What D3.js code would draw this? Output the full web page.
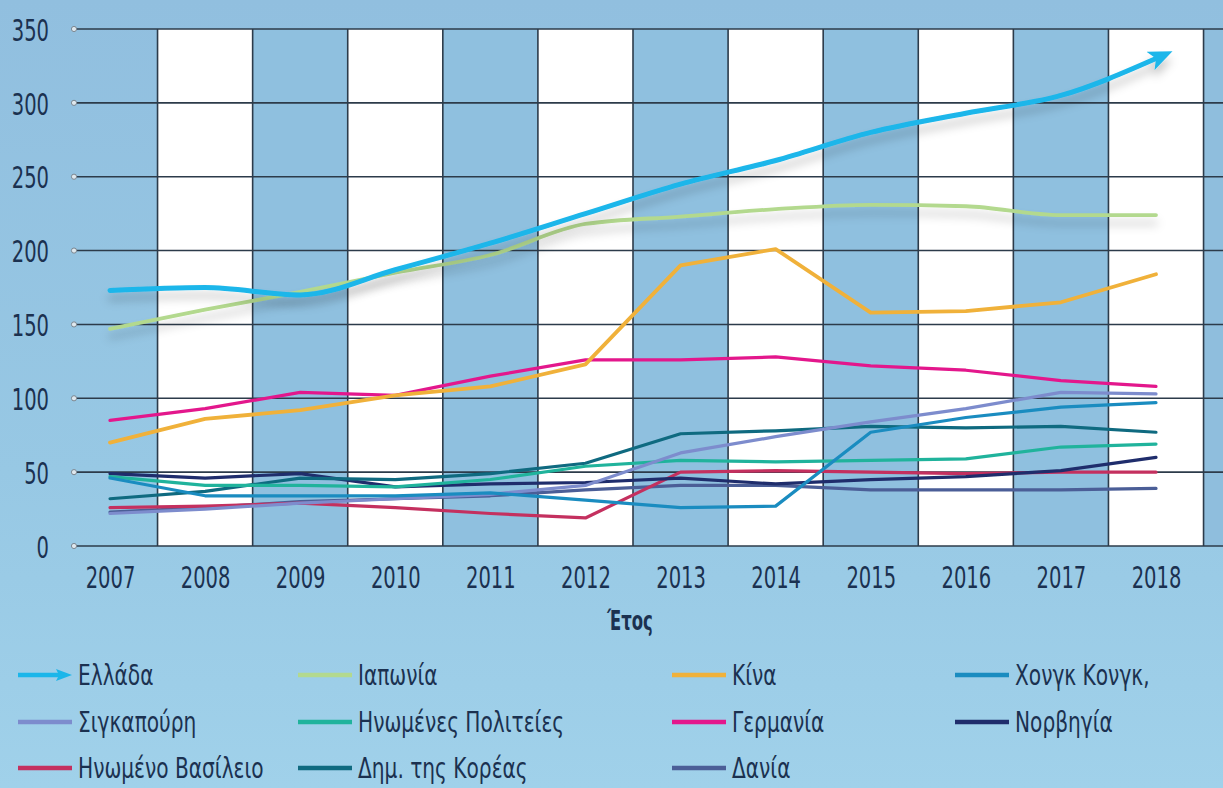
<!DOCTYPE html>
<html>
<head>
<meta charset="utf-8">
<script src="https://cdn.jsdelivr.net/npm/d3@7"></script>
<style>
  html, body { margin: 0; padding: 0; overflow: hidden; }
  svg { display: block; }
  text { font-family: "Liberation Sans Narrow", "DejaVu Sans Condensed", "Roboto", sans-serif; fill: #1b3150; }
</style>
</head>
<body>
<div id="chart"></div>
<script>
const W = 1223, H = 788;

const years = [2007, 2008, 2009, 2010, 2011, 2012, 2013, 2014, 2015, 2016, 2017, 2018];
const yTicks = [0, 50, 100, 150, 200, 250, 300, 350];

// values
const greece    = [173, 175, 170, 187, 205, 225, 245, 261, 280, 293, 305, 330];
const japan     = [147, 160, 172, 185, 197, 218, 223, 228, 231, 230, 224, 224];
const china     = [70, 86, 92, 102, 108, 123, 190, 201, 158, 159, 165, 184];
const hongkong  = [46, 34, 34, 34, 36, 31, 26, 27, 77, 87, 94, 97];
const singapore = [22, 25, 29, 32, 35, 41, 63, 74, 84, 93, 104, 103];
const usa       = [47, 41, 41, 40, 45, 54, 58, 57, 58, 59, 67, 69];
const germany   = [85, 93, 104, 102, 115, 126, 126, 128, 122, 119, 112, 108];
const norway    = [49, 46, 49, 40, 42, 43, 46, 42, 45, 47, 51, 60];
const uk        = [26, 27, 29, 26, 22, 19, 50, 51, 50, 49, 50, 50];
const korea     = [32, 37, 46, 45, 49, 56, 76, 78, 81, 80, 81, 77];
const denmark   = [23, 26, 30, 32, 34, 38, 41, 41, 38, 38, 38, 39];

const names = ["Ελλάδα", "Ιαπωνία", "Κίνα", "Χονγκ Κονγκ,",
               "Σιγκαπούρη", "Ηνωμένες Πολιτείες", "Γερμανία", "Νορβηγία",
               "Ηνωμένο Βασίλειο", "Δημ. της Κορέας", "Δανία"];
const colors = ["#1bb6ea", "#b3d98e", "#f0b13a", "#1a8cc0",
                "#7d8ccd", "#20b39c", "#e3178c", "#1f2d6c",
                "#c4305f", "#0f6a80", "#4b5e97"];
const valuesList = [greece, japan, china, hongkong, singapore, usa, germany, norway, uk, korea, denmark];

var series = names.map(function(n, i) {
    return { name: n, color: colors[i], values: valuesList[i] };
});

// squeeze text horizontally, the original uses a tall condensed face
function condense(sel, k) {
    sel.each(function() {
        var w = this.getComputedTextLength();
        d3.select(this).attr("textLength", w * k).attr("lengthAdjust", "spacingAndGlyphs");
    });
}

var svg = d3.select("#chart").append("svg")
    .attr("width", W)
    .attr("height", H);

var defs = svg.append("defs");
var bg = defs.append("linearGradient").attr("id", "bg")
    .attr("x1", 0).attr("y1", 0).attr("x2", 0).attr("y2", 1);
bg.append("stop").attr("offset", "0%").attr("stop-color", "#91bfdf");
bg.append("stop").attr("offset", "60%").attr("stop-color", "#97c8e4");
bg.append("stop").attr("offset", "100%").attr("stop-color", "#a0d1ea");

var shadow = defs.append("filter").attr("id", "shadow")
    .attr("x", "-5%").attr("y", "-20%").attr("width", "110%").attr("height", "160%");
shadow.append("feDropShadow")
    .attr("dx", 0).attr("dy", 8).attr("stdDeviation", 5)
    .attr("flood-color", "#000").attr("flood-opacity", 0.22);

defs.append("marker")
    .attr("id", "arrow")
    .attr("viewBox", "0 0 12 10")
    .attr("refX", 3).attr("refY", 5)
    .attr("markerWidth", 5).attr("markerHeight", 4)
    .attr("orient", "auto")
    .append("path")
    .attr("d", "M0,0 L12,5 L0,10 L3,5 z")
    .attr("fill", colors[0]);

svg.append("rect").attr("width", W).attr("height", H).attr("fill", "url(#bg)");

var x = d3.scalePoint().domain(years).range([110, 1156]);
var y = d3.scaleLinear().domain([0, 350]).range([546, 29]);
var step = x.step();

// alternating columns
svg.append("g").selectAll("rect")
    .data(years.slice(1))
    .enter().append("rect")
    .attr("x", function(d) { return x(d) - step / 2; })
    .attr("y", y(350))
    .attr("width", step)
    .attr("height", y(0) - y(350))
    .attr("fill", function(d) { return d % 2 == 0 ? "#ffffff" : "#8fc0df"; });

// last blue strip on the right
svg.append("rect")
    .attr("x", x(2018) + step / 2).attr("y", y(350))
    .attr("width", W - x(2018) - step / 2).attr("height", y(0) - y(350))
    .attr("fill", "#8fbedd");

// vertical grid lines
var vlines = years.slice(1).map(function(d) { return x(d) - step / 2; });
vlines.push(x(2018) + step / 2);
svg.append("g").selectAll("line")
    .data(vlines)
    .enter().append("line")
    .attr("x1", function(d) { return d; })
    .attr("x2", function(d) { return d; })
    .attr("y1", y(350)).attr("y2", y(0))
    .attr("stroke", "#2c3b4a").attr("stroke-width", 1.6);

// horizontal grid lines
svg.append("g").selectAll("line")
    .data(yTicks)
    .enter().append("line")
    .attr("x1", 74).attr("x2", W)
    .attr("y1", function(d) { return y(d); })
    .attr("y2", function(d) { return y(d); })
    .attr("stroke", "#2c3b4a").attr("stroke-width", 1.6);

svg.append("g").selectAll("circle")
    .data(yTicks)
    .enter().append("circle")
    .attr("cx", 74).attr("cy", function(d) { return y(d); })
    .attr("r", 2.6)
    .attr("fill", "#dfe8ee").attr("stroke", "#7b8791").attr("stroke-width", 1);

// axes (labels only)
var yAxis = svg.append("g")
    .attr("transform", "translate(49,0)")
    .call(d3.axisLeft(y).tickValues(yTicks).tickSize(0).tickPadding(0));
yAxis.select(".domain").remove();
yAxis.selectAll("text")
    .style("font-size", "31px")
    .attr("fill", "#1b3150")
    .attr("dy", "0.36em")
    .call(condense, 0.7);

var xAxis = svg.append("g")
    .attr("transform", "translate(0,562)")
    .call(d3.axisBottom(x).tickFormat(d3.format("d")).tickSize(0).tickPadding(0));
xAxis.select(".domain").remove();
xAxis.selectAll("text")
    .style("font-size", "31px")
    .attr("fill", "#1b3150")
    .attr("dy", "0.85em")
    .call(condense, 0.7);

svg.append("text")
    .attr("x", 630).attr("y", 630)
    .attr("text-anchor", "middle")
    .style("font-size", "27px")
    .style("font-weight", "bold")
    .text("Έτος")
    .call(condense, 0.68);

// lines
var line = d3.line()
    .x(function(d, i) { return x(years[i]); })
    .y(function(d) { return y(d); });

var drawOrder = [10, 8, 7, 9, 5, 4, 3, 6, 2, 1, 0];
svg.append("g").selectAll("path")
    .data(drawOrder.map(function(i) { return series[i]; }))
    .enter().append("path")
    .attr("d", function(d) {
        return line.curve(d.name == "Ελλάδα" || d.name == "Ιαπωνία" ? d3.curveMonotoneX : d3.curveLinear)(d.values);
    })
    .attr("fill", "none")
    .attr("stroke", function(d) { return d.color; })
    .attr("stroke-width", function(d) {
        if (d.name == "Ελλάδα") return 5;
        if (d.name == "Κίνα" || d.name == "Ιαπωνία") return 3.8;
        return 3.2;
    })
    .attr("stroke-linecap", "round")
    .attr("stroke-linejoin", "round")
    .attr("filter", function(d) { return d.name == "Ελλάδα" || d.name == "Ιαπωνία" ? "url(#shadow)" : null; })
    .attr("marker-end", function(d) { return d.name == "Ελλάδα" ? "url(#arrow)" : null; });

// legend, 4 columns
var legX = [18, 298, 672, 955];
var legY = [675, 722, 768];
var legend = svg.append("g").selectAll("g")
    .data(series)
    .enter().append("g")
    .attr("transform", function(d, i) {
        var col = i % 4;
        var row = Math.floor(i / 4);
        return "translate(" + legX[col] + "," + legY[row] + ")";
    });

legend.append("line")
    .attr("x1", 0).attr("x2", function(d, i) { return i == 0 ? 42 : 54; })
    .attr("y1", 0).attr("y2", 0)
    .attr("stroke", function(d) { return d.color; })
    .attr("stroke-width", 4.5);

legend.filter(function(d, i) { return i == 0; })
    .append("path")
    .attr("d", "M38,-6 L54,0 L38,6 L41,0 z")
    .attr("fill", colors[0]);

legend.append("text")
    .attr("x", 60).attr("y", 0)
    .attr("dy", "0.36em")
    .style("font-size", "28px")
    .text(function(d) { return d.name; })
    .call(condense, 0.8);
</script>
</body>
</html>
